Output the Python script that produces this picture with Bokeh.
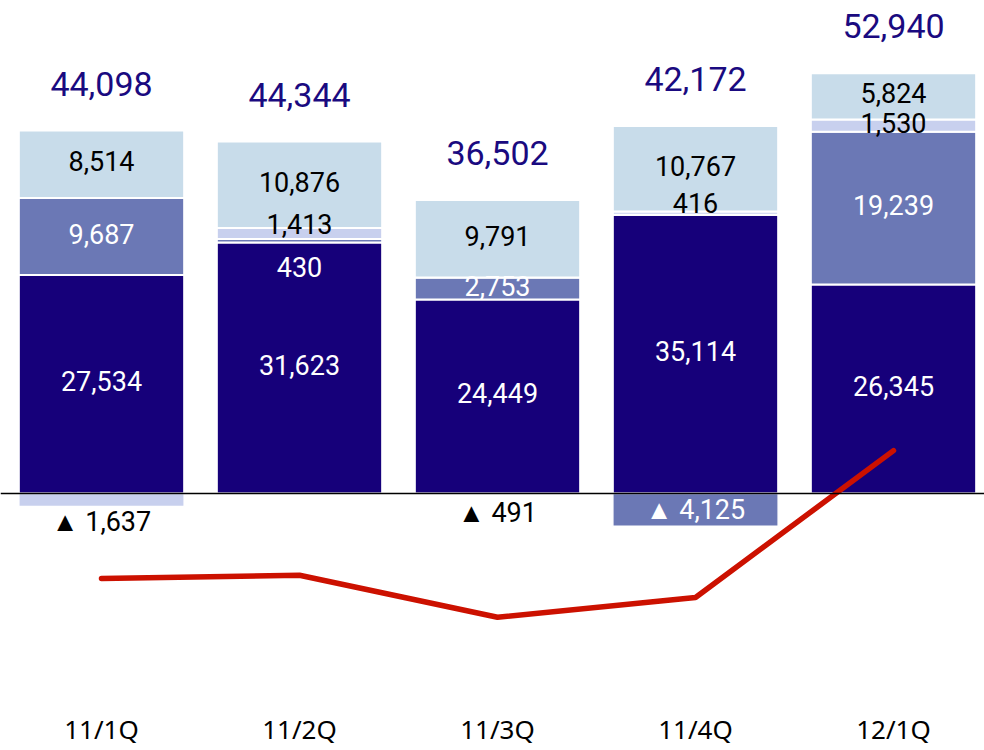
from bokeh.plotting import figure
from bokeh.models import ColumnDataSource, Range1d, Span, FixedTicker
from bokeh.core.properties import value
from bokeh.embed import file_html
from bokeh.resources import INLINE

# ---- data ----
categories = ["11/1Q", "11/2Q", "11/3Q", "11/4Q", "12/1Q"]
seg_navy = [27534, 31623, 24449, 35114, 26345]
seg_mid = [9687, 430, 2753, 0, 19239]
seg_lav = [0, 1413, 0, 416, 1530]
seg_light = [8514, 10876, 9791, 10767, 5824]
negatives = [-1637, 0, -491, -4125, 0]
totals = [44098, 44344, 36502, 42172, 52940]
line_vals = [-10700, -10300, -15600, -13100, 5400]

# ---- styles ----
C_NAVY = "#16007a"
C_MID = "#6b78b5"
C_LAV = "#c8d0ee"
C_LIGHT = "#c8dcea"
C_TOTAL = "#1a0a80"
neg_colors = [C_LAV, C_LAV, "#ffffff", C_MID, C_LAV]

FRAME_W, FRAME_H = 984, 704
ZERO_PX = 493          # px from frame top to zero line
UNITS_PER_PX = 126.0
x = list(range(len(categories)))
BAR_W = 0.835
X_START = -101 / 198
X_END = X_START + FRAME_W / 198

p = figure(frame_width=FRAME_W, frame_height=FRAME_H, output_backend="svg",
           toolbar_location=None, y_axis_location=None,
           x_range=Range1d(X_START, X_END),
           y_range=Range1d(-(FRAME_H - ZERO_PX) * UNITS_PER_PX, ZERO_PX * UNITS_PER_PX),
           min_border_left=0, min_border_right=0, min_border_top=0, min_border_bottom=0)
p.outline_line_color = None
p.grid.visible = False
p.background_fill_color = "white"
p.border_fill_color = "white"

src = ColumnDataSource(dict(x=x, navy=seg_navy, mid=seg_mid, lav=seg_lav, light=seg_light,
                            neg=negatives, negc=neg_colors))
p.vbar_stack(["navy", "mid", "lav", "light"], x="x", width=BAR_W, source=src,
             fill_color=[C_NAVY, C_MID, C_LAV, C_LIGHT], line_color="white", line_width=2)
p.vbar(x="x", top=0, bottom="neg", width=BAR_W, source=src,
       fill_color="negc", line_color="white", line_width=1.5)

p.line(x, line_vals, line_color="#cc1100", line_width=5.5, line_cap="round", line_join="round")

p.add_layout(Span(location=0, dimension="width", line_color="black", line_width=1.5))

# ---- segment labels ----
special = {(1, "lav"): -10, (1, "mid"): 26, (3, "lav"): -10}
lx, ly, lt, lc, lo = [], [], [], [], []
for i in x:
    base = 0
    for name, vals, col in [("navy", seg_navy, "white"), ("mid", seg_mid, "white"),
                            ("lav", seg_lav, "black"), ("light", seg_light, "black")]:
        v = vals[i]
        if v:
            lx.append(i); ly.append(base + v / 2); lt.append(f"{v:,}")
            lc.append(col); lo.append(special.get((i, name), -3))
        base += v
    n = negatives[i]
    if n:
        if abs(n) / UNITS_PER_PX < 20:
            lx.append(i); ly.append(n); lt.append(f"▲ {abs(n):,}"); lc.append("black"); lo.append(16)
        else:
            lx.append(i); ly.append(n / 2); lt.append(f"▲ {abs(n):,}"); lc.append("white"); lo.append(0)

lsrc = ColumnDataSource(dict(x=lx, y=ly, t=lt, c=lc, o=lo))
p.text(x="x", y="y", text="t", text_color="c", y_offset="o", source=lsrc,
       text_align="center", text_baseline="middle", text_font=value("Roboto"),
       text_font_size="27px")

tops = [a + b + c + d for a, b, c, d in zip(seg_navy, seg_mid, seg_lav, seg_light)]
tsrc = ColumnDataSource(dict(x=x, y=tops, t=[f"{v:,}" for v in totals]))
p.text(x="x", y="y", text="t", source=tsrc, y_offset=-47, text_color=C_TOTAL,
       text_align="center", text_baseline="middle", text_font=value("Roboto"),
       text_font_size="34px")

# ---- category axis ----
p.xaxis.ticker = FixedTicker(ticks=x)
p.xaxis.major_label_overrides = {i: c for i, c in zip(x, categories)}
p.xaxis.axis_line_color = None
p.xaxis.major_tick_line_color = None
p.xaxis.minor_tick_line_color = None
p.xaxis.major_tick_out = 0
p.xaxis.major_tick_in = 0
p.xaxis.major_label_standoff = 6
p.xaxis.major_label_text_font = "Noto Sans"
p.xaxis.major_label_text_font_size = "26px"
p.xaxis.major_label_text_color = "black"

open("out.html", "w").write(file_html(p, INLINE))
